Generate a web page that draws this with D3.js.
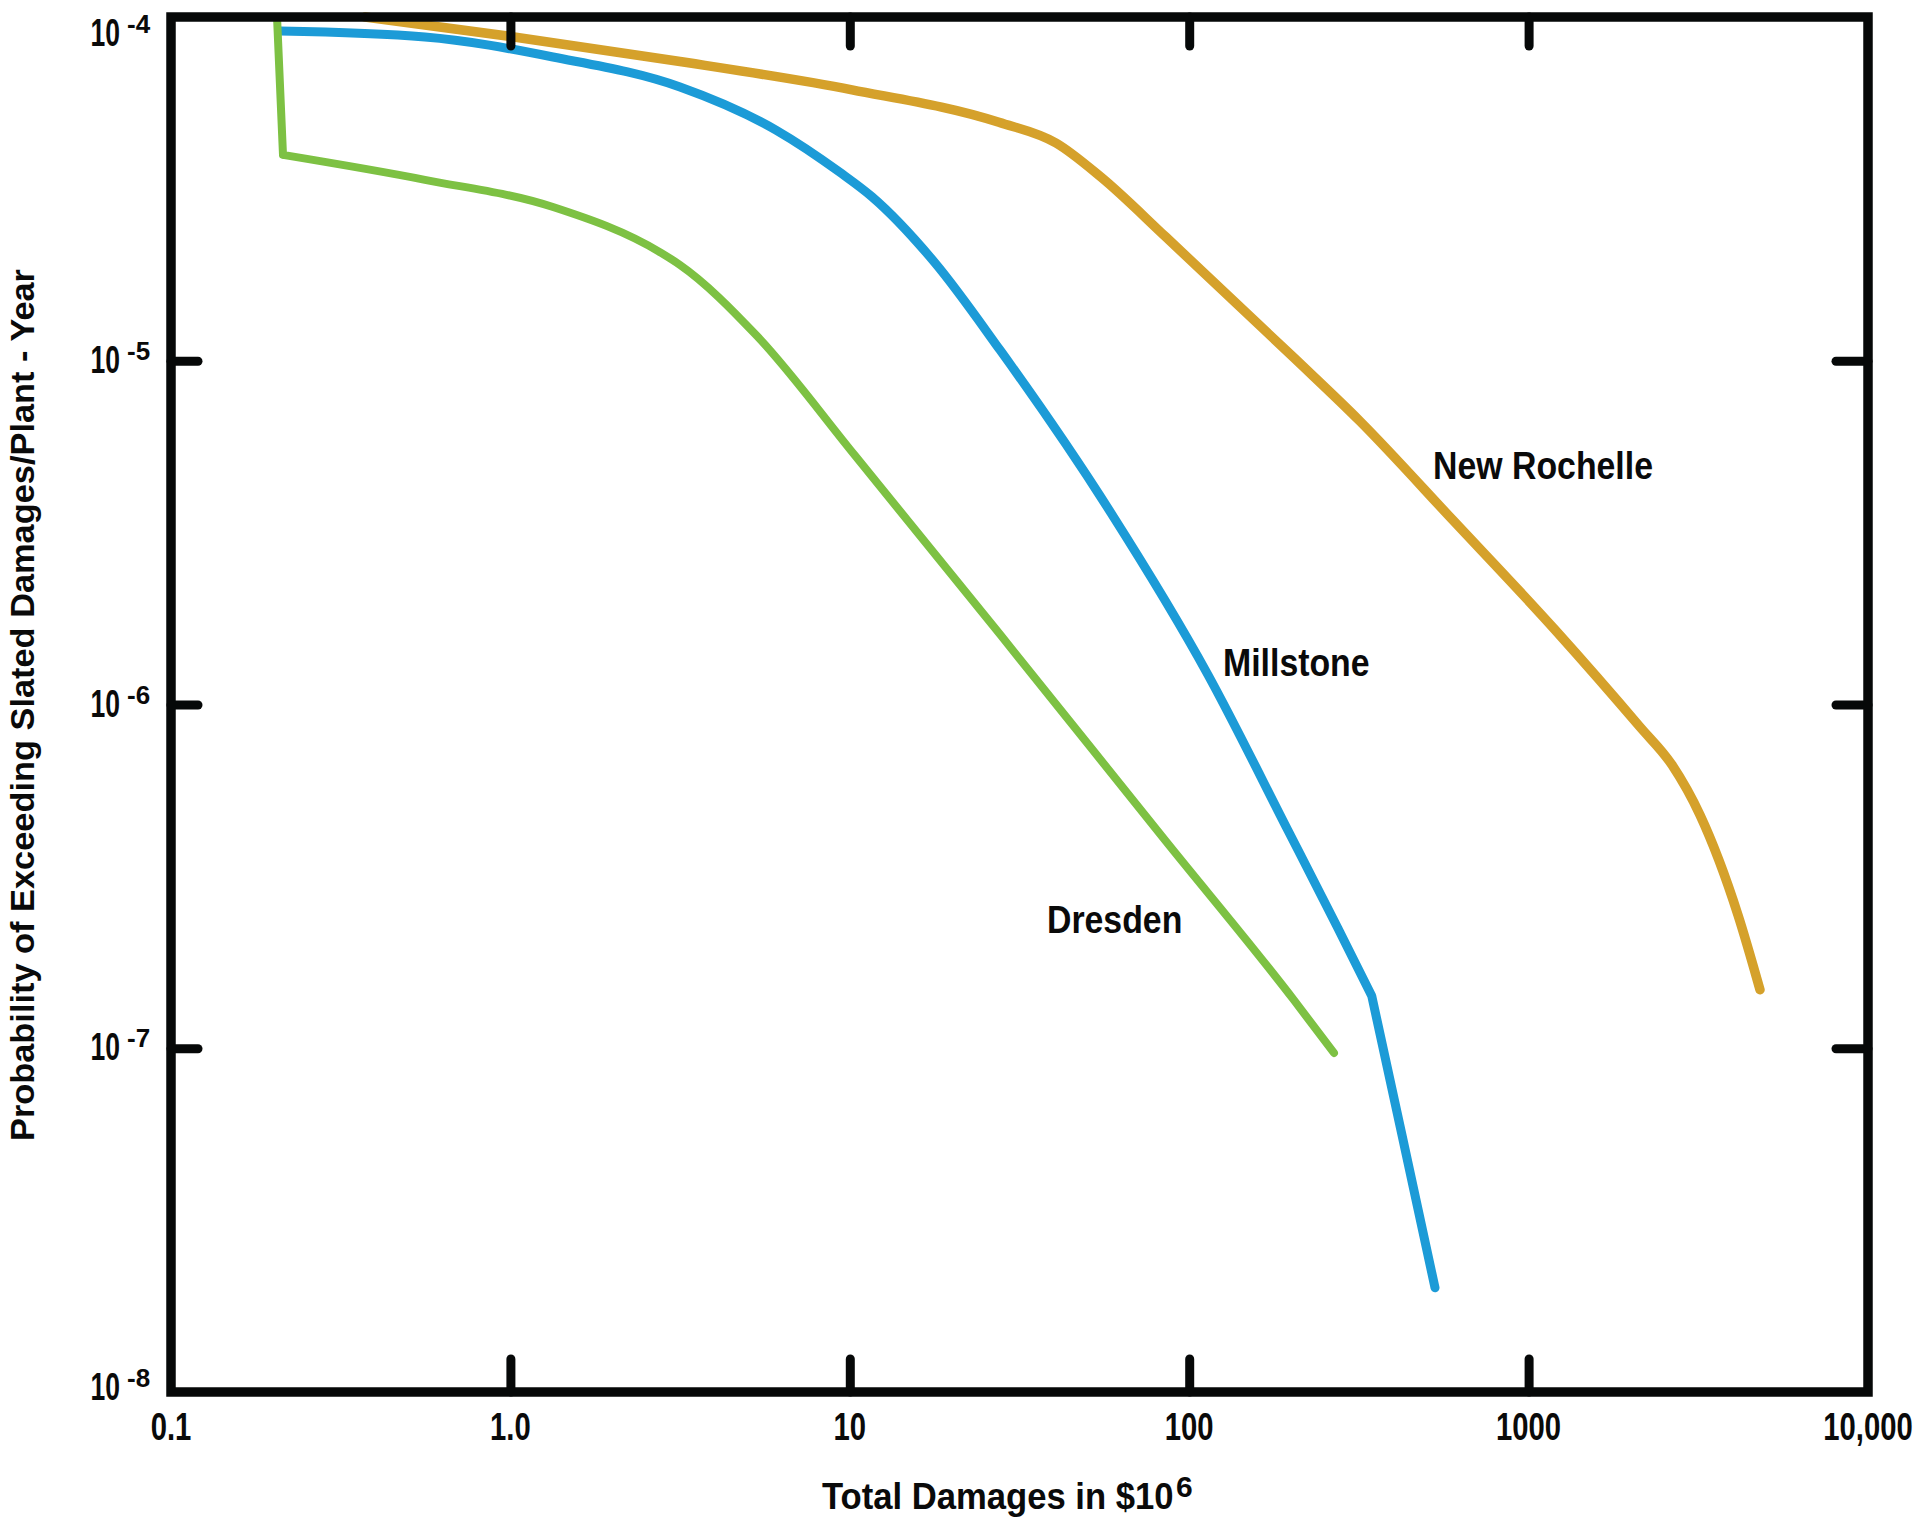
<!DOCTYPE html>
<html><head><meta charset="utf-8">
<script src="https://cdn.jsdelivr.net/npm/d3@7"></script>
<style>
html,body{margin:0;padding:0;background:#fff;}
svg{display:block;}
text{font-family:"Liberation Sans", Arial, Helvetica, sans-serif;font-weight:bold;fill:#0a0a0a;}
</style></head><body>
<svg id="chart" width="1920" height="1529"></svg>
<script>
// ---------- data ----------
const seriesNames = ["New Rochelle", "Millstone", "Dresden"];
const seriesColors = ["#D5A12B", "#1C9BD7", "#7DC143"];

const newRochelleX = [0.373, 1.025, 3.16, 10.15, 27.5, 40.5, 55.0, 85.4, 203.6, 318, 598, 1196, 2130, 2646, 3199, 4140, 4806];
const newRochelleY = [1e-4, 8.75e-5, 7.42e-5, 6.14e-5, 4.94e-5, 4.30e-5, 3.42e-5, 2.29e-5, 1.02e-5, 6.68e-6, 3.44e-6, 1.65e-6, 8.60e-7, 6.67e-7, 4.77e-7, 2.44e-7, 1.48e-7];

const millstoneX = [0.2096, 0.560, 1.335, 3.16, 6.06, 9.36, 11.62, 17.8, 27.7, 58.8, 113.6, 195.5, 274.5, 345, 423.6, 530];
const millstoneY = [9.1e-5, 8.75e-5, 7.65e-5, 6.26e-5, 4.69e-5, 3.53e-5, 3.0e-5, 1.93e-5, 1.075e-5, 3.61e-6, 1.22e-6, 4.30e-7, 2.23e-7, 1.42e-7, 5.59e-8, 2.01e-8];

const dresdenX = [0.2053, 0.2138, 0.560, 1.335, 2.78, 3.16, 5.33, 10.36, 27.7, 85.4, 203.6, 267];
const dresdenY = [1e-4, 3.97e-5, 3.36e-5, 2.80e-5, 2.06e-5, 1.90e-5, 1.18e-5, 5.3e-6, 1.60e-6, 4.0e-7, 1.38e-7, 9.69e-8];

// label anchors (data units)
const labelAtX = [523, 125.8, 38.1];
const labelAtY = [4.53e-6, 1.21e-6, 2.16e-7];

const xTickValues = [0.1, 1, 10, 100, 1000, 10000];
const xTickLabels = ["0.1", "1.0", "10", "100", "1000", "10,000"];
const yTickValues = [1e-4, 1e-5, 1e-6, 1e-7, 1e-8];
const yTickBase = "10";
const yTickExponents = ["-4", "-5", "-6", "-7", "-8"];

const xTitle = "Total Damages in $10";
const xTitleSup = "6";
const yTitle = "Probability of Exceeding Slated Damages/Plant - Year";

// ---------- chart ----------
const svg = d3.select("#chart");
const L = 171, R = 1868, T = 17, B = 1392;
const x = d3.scaleLog().domain([0.1, 10000]).range([L, R]);
const y = d3.scaleLog().domain([1e-8, 1e-4]).range([B, T]);

// corner handling: straight segment before index `cornerStart`, straight after index `cornerEnd`
const series = [
  {name: seriesNames[0], color: seriesColors[0], xs: newRochelleX, ys: newRochelleY, width: 9.5, cornerStart: 0, cornerEnd: null},
  {name: seriesNames[1], color: seriesColors[1], xs: millstoneX, ys: millstoneY, width: 9, cornerStart: 0, cornerEnd: 13},
  {name: seriesNames[2], color: seriesColors[2], xs: dresdenX, ys: dresdenY, width: 8, cornerStart: 1, cornerEnd: null}
];

const smooth = d3.line().x(d => x(d[0])).y(d => y(d[1])).curve(d3.curveMonotoneX);
const straight = d3.line().x(d => x(d[0])).y(d => y(d[1]));

const lines = svg.append("g");
series.forEach(s => {
  const pts = s.xs.map((v, i) => [v, s.ys[i]]);
  const a = s.cornerStart, b = s.cornerEnd == null ? pts.length - 1 : s.cornerEnd;
  const parts = [];
  if (a > 0) parts.push(straight(pts.slice(0, a + 1)));
  parts.push(smooth(pts.slice(a, b + 1)));
  if (b < pts.length - 1) parts.push(straight(pts.slice(b)));
  lines.append("path")
    .attr("d", parts.join(""))
    .attr("fill", "none")
    .attr("stroke", s.color)
    .attr("stroke-width", s.width)
    .attr("stroke-linecap", "round")
    .attr("stroke-linejoin", "round");
});

// ticks (inward)
function styleAxis(g) {
  g.select(".domain").remove();
  g.selectAll(".tick line").attr("stroke", "#060808").attr("stroke-width", 9).attr("stroke-linecap", "round");
  g.selectAll(".tick text").remove();
}
const inner = xTickValues.slice(1, -1);
const innerY = yTickValues.slice(1, -1);
svg.append("g").attr("transform", `translate(0,${B})`)
  .call(d3.axisBottom(x).tickValues(inner).tickSize(-33).tickFormat(() => "")).call(styleAxis);
svg.append("g").attr("transform", `translate(0,${T})`)
  .call(d3.axisTop(x).tickValues(inner).tickSize(-29).tickFormat(() => "")).call(styleAxis);
svg.append("g").attr("transform", `translate(${L},0)`)
  .call(d3.axisLeft(y).tickValues(innerY).tickSize(-27).tickFormat(() => "")).call(styleAxis);
svg.append("g").attr("transform", `translate(${R},0)`)
  .call(d3.axisRight(y).tickValues(innerY).tickSize(-32).tickFormat(() => "")).call(styleAxis);

// frame
svg.append("rect")
  .attr("x", L).attr("y", T).attr("width", R - L).attr("height", B - T)
  .attr("fill", "none").attr("stroke", "#060808").attr("stroke-width", 9.5)
  .attr("stroke-linejoin", "miter");

// x tick labels
svg.append("g").selectAll("text").data(xTickValues).join("text")
  .attr("transform", d => `translate(${x(d)},${B + 48}) scale(0.75,1)`)
  .attr("text-anchor", "middle")
  .style("font-size", "39px")
  .text((d, i) => xTickLabels[i]);

// y tick labels
const yl = svg.append("g").selectAll("g").data(yTickValues).join("g")
  .attr("transform", d => `translate(0,${Math.min(Math.max(y(d) + 12, T + 29), B + 8)})`);
yl.append("text")
  .attr("transform", `translate(${L - 51},0) scale(0.68,1)`)
  .attr("text-anchor", "end")
  .style("font-size", "39px")
  .text(yTickBase);
yl.append("text")
  .attr("transform", `translate(${L - 44},-13) scale(1,1)`)
  .attr("text-anchor", "start")
  .style("font-size", "26px")
  .text((d, i) => yTickExponents[i]);

// axis titles
svg.append("text")
  .attr("transform", `translate(822,1509) scale(0.936,1)`)
  .style("font-size", "37px")
  .text(xTitle);
svg.append("text")
  .attr("transform", `translate(1176,1497)`)
  .style("font-size", "30px")
  .text(xTitleSup);

svg.append("text")
  .attr("transform", `translate(34,1141) rotate(-90)`)
  .attr("textLength", 872)
  .attr("lengthAdjust", "spacingAndGlyphs")
  .style("font-size", "33px")
  .text(yTitle);

// series labels
svg.append("g").selectAll("text").data(series).join("text")
  .attr("transform", (s, i) => `translate(${x(labelAtX[i])},${y(labelAtY[i])}) scale(0.89,1)`)
  .style("font-size", "38px")
  .text(s => s.name);
</script>
</body></html>
